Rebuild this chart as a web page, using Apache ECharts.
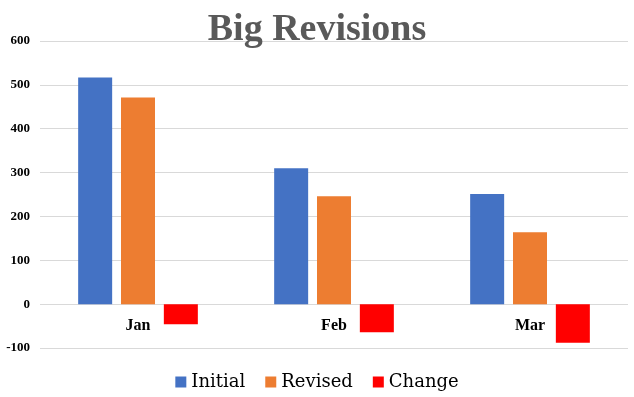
<!DOCTYPE html>
<html>
<head>
<meta charset="utf-8">
<script src="https://cdn.jsdelivr.net/npm/echarts@6/dist/echarts.min.js"></script>
<style>
    html, body { margin: 0; padding: 0; background: #fff; }
    #chart { width: 634px; height: 397px; }
</style>
</head>
<body>
<div id="chart"></div>
<script>
    var months = ['Jan', 'Feb', 'Mar'];
    var seriesNames = ['Initial', 'Revised', 'Change'];
    var initial = [517, 310, 251];
    var revised = [471, 246, 164];
    var change = [-46, -64, -88];
    var yTicks = { min: -100, max: 600, step: 100 };

    var serif = 'Liberation Serif';

    var myChart = echarts.init(document.getElementById('chart'));
    var option = {
        animation: false,
        title: {
            text: 'Big Revisions',
            left: 'center',
            top: 6,
            textStyle: {
                fontFamily: serif,
                fontWeight: 'bold',
                fontSize: 38,
                color: '#595959'
            }
        },
        legend: {
            data: seriesNames,
            left: 'center',
            top: 368,
            itemWidth: 11,
            itemHeight: 11,
            itemGap: 20,
            icon: 'rect',
            textStyle: { fontFamily: 'DejaVu Serif', fontSize: 18, color: '#000' }
        },
        grid: { left: 40, right: 6, top: 41, bottom: 49 },
        xAxis: {
            type: 'category',
            data: months,
            position: 'bottom',
            offset: -44,   // sits the labels just under the zero line
            axisLine: { show: false, onZero: false },
            axisTick: { show: false },
            axisLabel: {
                margin: 14,
                fontFamily: serif,
                fontWeight: 'bold',
                fontSize: 16,
                color: '#000'
            }
        },
        yAxis: {
            type: 'value',
            min: yTicks.min,
            max: yTicks.max,
            interval: yTicks.step,
            axisLine: { show: false },
            axisTick: { show: false },
            splitLine: { lineStyle: { color: '#d9d9d9', width: 1 } },
            axisLabel: {
                margin: 10,
                fontFamily: serif,
                fontWeight: 'bold',
                fontSize: 13,
                color: '#000'
            }
        },
        series: [
            { name: seriesNames[0], type: 'bar', data: initial, barWidth: 34, barGap: '26%', itemStyle: { color: '#4472c4' } },
            { name: seriesNames[1], type: 'bar', data: revised, barWidth: 34, barGap: '26%', itemStyle: { color: '#ed7d31' } },
            { name: seriesNames[2], type: 'bar', data: change, barWidth: 34, barGap: '26%', itemStyle: { color: '#ff0000' } }
        ]
    };
    myChart.setOption(option);
</script>
</body>
</html>
